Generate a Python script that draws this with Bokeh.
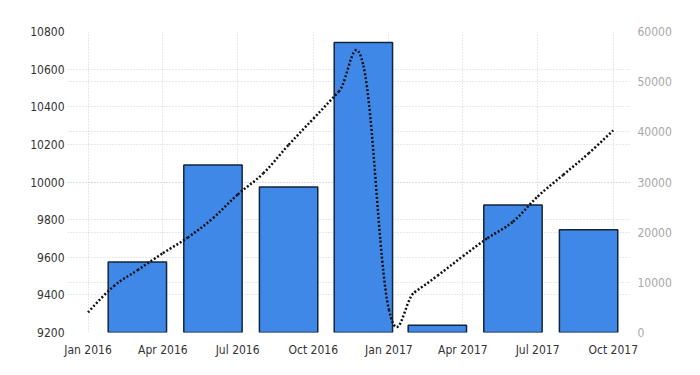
from datetime import datetime, timedelta

import pandas as pd
from bokeh.embed import file_html
from bokeh.models import (ColumnDataSource, DatetimeTickFormatter, FixedTicker,
                          Grid, LinearAxis, Range1d)
from bokeh.plotting import figure
from bokeh.resources import INLINE

# ---------------- data ----------------
bar_dates = ["2016-03-01", "2016-06-01", "2016-09-01", "2016-12-01",
             "2017-03-01", "2017-06-01", "2017-09-01"]
bar_values = [9575, 10090, 9973, 10742, 9239, 9878, 9746]

line_dates = ["2016-01-01", "2016-02-01", "2016-03-01", "2016-04-01",
              "2016-05-01", "2016-06-01", "2016-07-01", "2016-08-01",
              "2016-09-01", "2016-10-01", "2016-11-01", "2016-12-01",
              "2017-01-01", "2017-02-01", "2017-03-01", "2017-04-01",
              "2017-05-01", "2017-06-01", "2017-07-01", "2017-08-01",
              "2017-09-01", "2017-10-01"]
line_values = [4000, 9200, 12400, 15800, 18900, 22800, 27500, 31700,
               37400, 42600, 48000, 53200, 4600, 8000, 11300, 15200,
               18800, 22100, 27100, 31400, 35700, 40300]

tick_dates = ["2016-01-01", "2016-04-01", "2016-07-01", "2016-10-01",
              "2017-01-01", "2017-04-01", "2017-07-01", "2017-10-01"]
left_ticks = [9200, 9400, 9600, 9800, 10000, 10200, 10400, 10600, 10800]
right_ticks = [0, 10000, 20000, 30000, 40000, 50000, 60000]

# ---------------- helpers ----------------
def ms(d):
    return pd.Timestamp(d).value / 1e6

FONT = "DejaVu Sans Condensed, Liberation Sans, sans-serif"
GRID_COLOR = "#d0d0d0"

x_start = datetime(2015, 12, 7)
x_end = datetime(2017, 10, 22)

p = figure(width=684, height=359, output_backend="svg", toolbar_location=None,
           x_axis_type="datetime",
           x_range=Range1d(x_start, x_end),
           y_range=Range1d(left_ticks[0], left_ticks[-1]),
           min_border_left=67, min_border_right=54,
           min_border_top=31, min_border_bottom=26)
p.outline_line_color = None
p.background_fill_color = "white"
p.border_fill_color = "white"

p.extra_y_ranges = {"right": Range1d(right_ticks[0], right_ticks[-1])}

# axes styling
def style_axis(ax, color, standoff):
    ax.axis_line_color = None
    ax.major_tick_line_color = None
    ax.minor_tick_line_color = None
    ax.major_tick_out = 0
    ax.major_tick_in = 0
    ax.major_label_standoff = standoff
    ax.major_label_text_font = FONT
    ax.major_label_text_font_size = "12px"
    ax.major_label_text_color = color

left_ticker = FixedTicker(ticks=left_ticks)
p.yaxis.ticker = left_ticker
style_axis(p.yaxis[0], "#333333", 3)

x_ticker = FixedTicker(ticks=[ms(d) for d in tick_dates])
p.xaxis.ticker = x_ticker
fmt = "%b %Y"
p.xaxis.formatter = DatetimeTickFormatter(
    years=fmt, months=fmt, days=fmt, hours=fmt, minutes=fmt,
    seconds=fmt, milliseconds=fmt, microseconds=fmt, hourmin=fmt,
    minsec=fmt)
style_axis(p.xaxis[0], "#333333", 10)

right_ticker = FixedTicker(ticks=right_ticks)
right_axis = LinearAxis(y_range_name="right", ticker=right_ticker)
style_axis(right_axis, "#a8a8a8", 7)
p.add_layout(right_axis, "right")

# grids
for g in (p.xgrid[0], p.ygrid[0]):
    g.grid_line_color = GRID_COLOR
    g.grid_line_dash = "1 2"
    g.grid_line_width = 1
p.xgrid.ticker = x_ticker
p.ygrid.ticker = left_ticker
rgrid = Grid(dimension=1, ticker=right_ticker, y_range_name="right",
             grid_line_color=GRID_COLOR, grid_line_dash="1 2",
             grid_line_width=1)
p.add_layout(rgrid)

# bars
bar_src = ColumnDataSource(dict(x=[pd.Timestamp(d) for d in bar_dates],
                                top=bar_values))
p.vbar(x="x", top="top", bottom=left_ticks[0],
       width=timedelta(days=71).total_seconds() * 1000,
       source=bar_src, fill_color="#3f88e8", line_color="#14243a",
       line_width=1.5)

# spline line (Highcharts-like smoothing, computed from data points)
xs = [ms(d) for d in line_dates]
ys = list(line_values)
n = len(xs)
sm = 1.5
den = sm + 1
lc = [None] * n
rc = [None] * n
for i in range(1, n - 1):
    lx = (sm * xs[i] + xs[i - 1]) / den
    ly = (sm * ys[i] + ys[i - 1]) / den
    rx = (sm * xs[i] + xs[i + 1]) / den
    ry = (sm * ys[i] + ys[i + 1]) / den
    corr = (ry - ly) * (rx - xs[i]) / (rx - lx) + ys[i] - ry
    lc[i] = (lx, ly + corr)
    rc[i] = (rx, ry + corr)

seg = dict(x0=[], y0=[], x1=[], y1=[], cx0=[], cy0=[], cx1=[], cy1=[])
for i in range(1, n):
    c0 = rc[i - 1] if rc[i - 1] else (xs[i - 1], ys[i - 1])
    c1 = lc[i] if lc[i] else (xs[i], ys[i])
    seg["x0"].append(xs[i - 1]); seg["y0"].append(ys[i - 1])
    seg["x1"].append(xs[i]); seg["y1"].append(ys[i])
    seg["cx0"].append(c0[0]); seg["cy0"].append(c0[1])
    seg["cx1"].append(c1[0]); seg["cy1"].append(c1[1])

p.bezier(x0="x0", y0="y0", x1="x1", y1="y1", cx0="cx0", cy0="cy0",
         cx1="cx1", cy1="cy1", source=ColumnDataSource(seg),
         y_range_name="right", line_color="#111111", line_width=2.5,
         line_dash="2 2")

open("out.html", "w").write(file_html(p, INLINE))
